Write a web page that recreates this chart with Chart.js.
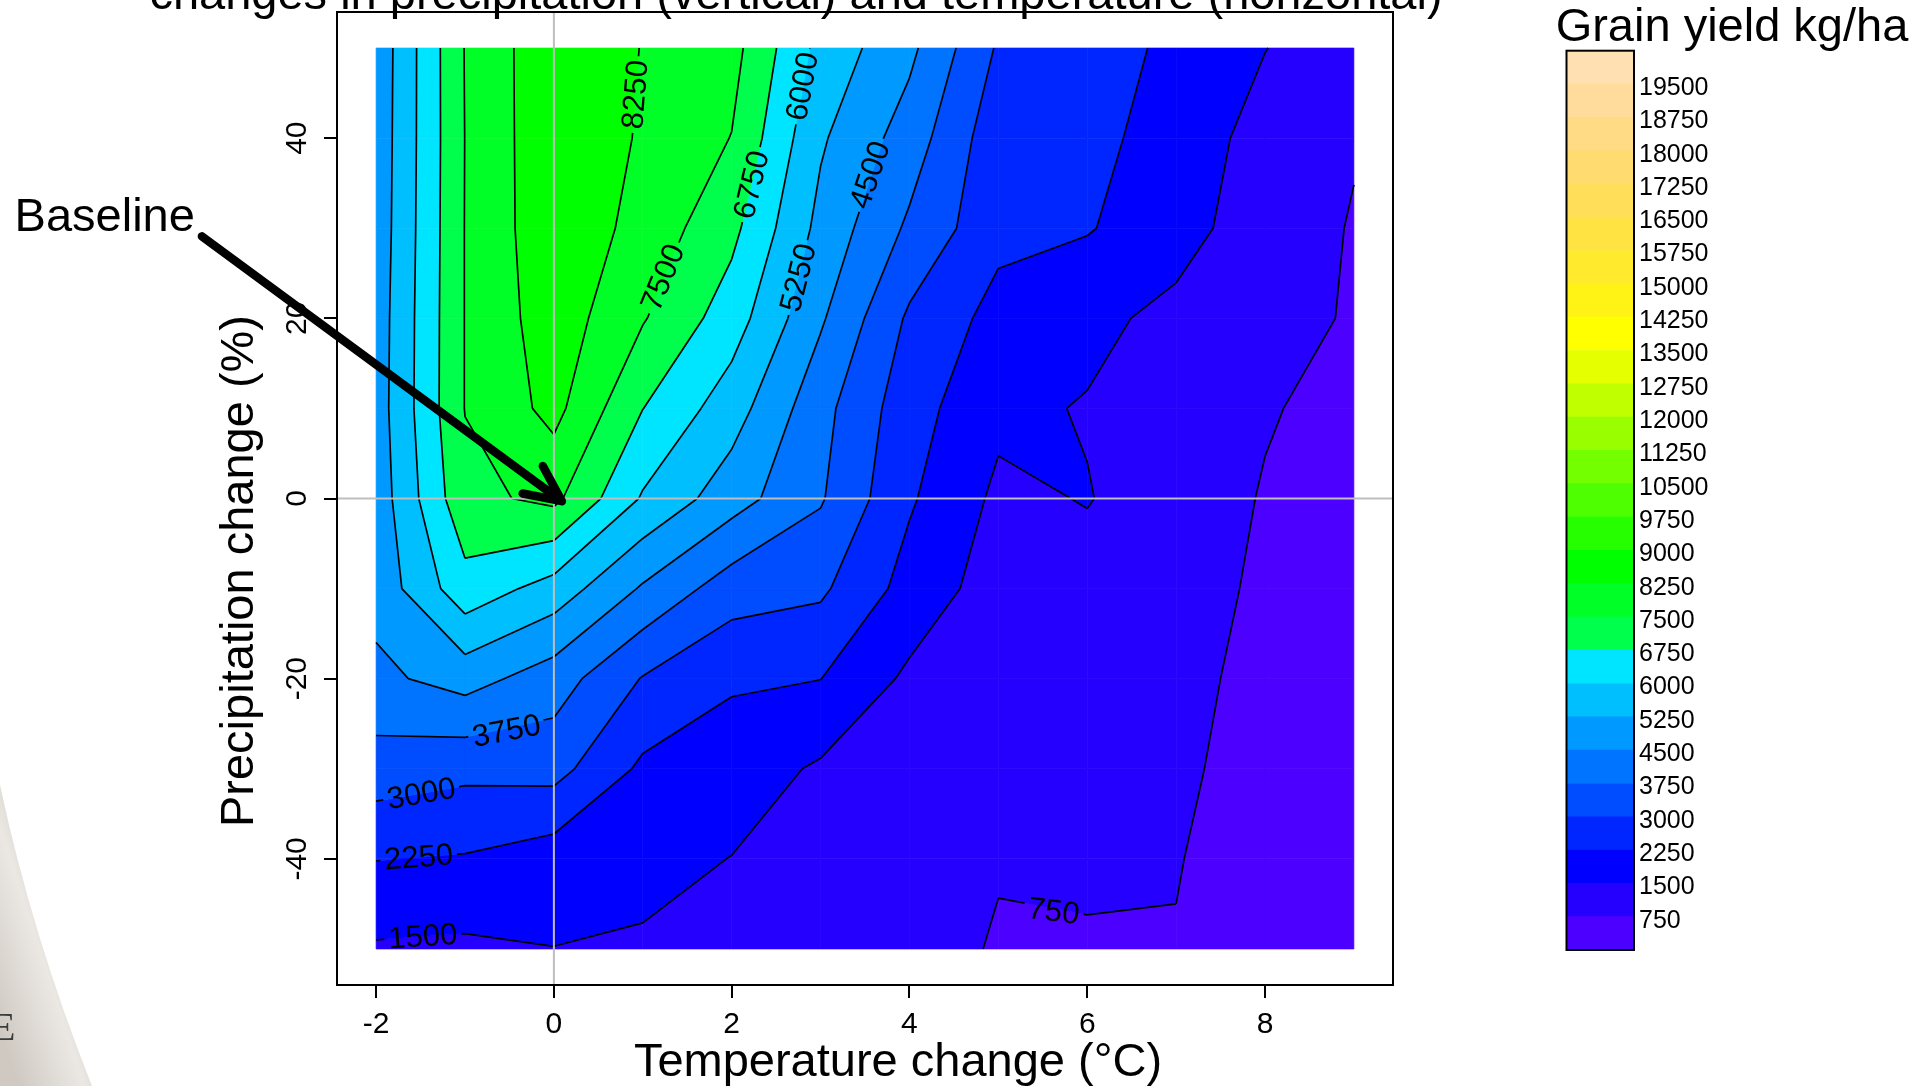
<!DOCTYPE html>
<html>
<head>
<meta charset="utf-8">
<title>Grain yield kg/ha</title>
<script src="https://cdn.jsdelivr.net/npm/chart.js@4.4.1/dist/chart.umd.min.js"></script>
<style>
    html, body { margin: 0; padding: 0; background: #ffffff; }
    body { width: 1931px; height: 1086px; position: relative; overflow: hidden; }
    #main { position: absolute; left: 0; top: 0; }
    #key { position: absolute; left: 1531px; top: 0; }
</style>
</head>
<body>
<canvas id="main" width="1931" height="1086"></canvas>
<canvas id="key" width="400" height="1086"></canvas>
<script>
// temperature change (°C) across, precipitation change (%) down the rows
const tempChange = [-2, -1, 0, 1, 2, 3, 4, 5, 6, 7, 8, 9];
const precipChange = [50, 40, 30, 20, 10, 0, -10, -20, -30, -40, -50];

// grain yield kg/ha, one row per precipitation step
const yieldRows = [
    [4720, 7530, 8840, 8225, 7760, 5760, 4675, 2910, 2600, 2085, 1520, 950],
    [4750, 7510, 8840, 8170, 7480, 5350, 4150, 2520, 2400, 2030, 1160, 790],
    [4780, 7520, 8816, 7996, 6950, 5030, 3614, 2456, 2300, 1820, 1050, 713],
    [4845, 7520, 8690, 7560, 6370, 4600, 2875, 1995, 1700, 1292, 1000, 684],
    [4875, 7520, 8482, 6760, 5600, 4000, 2550, 1667, 1450, 1200, 800, 560],
    [4800, 7300, 7680, 5920, 4828, 3824, 2339, 1350, 1534, 1107, 706, 450],
    [4753, 6470, 5690, 4410, 3350, 3133, 1971, 1145, 1225, 1000, 650, 500],
    [4330, 4800, 4117, 2956, 2341, 2260, 1357, 1100, 1000, 900, 600, 450],
    [3410, 3186, 3270, 2105, 1887, 1400, 1200, 1000, 950, 820, 600, 450],
    [2270, 2192, 1861, 1751, 1484, 1150, 1050, 774, 832, 770, 550, 420],
    [1413, 1358, 1489, 1398, 1100, 1000, 900, 719, 700, 730, 500, 400]
];

// contour / colour key levels
const levels = [0, 750, 1500, 2250, 3000, 3750, 4500, 5250, 6000, 6750, 7500, 8250, 9000, 9750,
    10500, 11250, 12000, 12750, 13500, 14250, 15000, 15750, 16500, 17250, 18000, 18750, 19500, 20250];

const xTicks = [-2, 0, 2, 4, 6, 8];
const yTicks = [-40, -20, 0, 20, 40];
const keyTicks = levels.slice(1, -1);

// where the contour labels sit (data units)
const contourLabels = [
    { level: 8250, x: 0.96, y: 44.8 },
    { level: 7500, x: 1.33, y: 24.1 },
    { level: 6750, x: 2.28, y: 34.7 },
    { level: 6000, x: 2.87, y: 45.6 },
    { level: 5250, x: 2.88, y: 24.2 },
    { level: 4500, x: 3.65, y: 35.6 },
    { level: 3750, x: -0.53, y: -26.0 },
    { level: 3000, x: -1.49, y: -32.9 },
    { level: 2250, x: -1.52, y: -40.0 },
    { level: 1500, x: -1.47, y: -49.3 },
    { level: 750, x: 5.62, y: -46.0 }
];

const FONT = "'Liberation Sans', Arial, Helvetica, sans-serif";
Chart.defaults.font.family = FONT;
Chart.defaults.color = '#000';

// R's topo.colors()
function hsv(h, s, v) {
    const i = Math.floor(h * 6), f = h * 6 - i;
    const p = v * (1 - s), q = v * (1 - f * s), t = v * (1 - (1 - f) * s);
    const rgb = [[v, t, p], [q, v, p], [p, v, t], [p, q, v], [t, p, v], [v, p, q]][i % 6];
    return '#' + rgb.map(c => Math.round(c * 255).toString(16).padStart(2, '0')).join('');
}
function topoColors(n) {
    const j = Math.floor(n / 3), k = Math.floor(n / 3), i = n - j - k;
    const seq = (a, b, m) => Array.from({ length: m }, (_, t) => m === 1 ? a : a + (b - a) * t / (m - 1));
    const sat = seq(1, 0.3, k);
    return [
        ...seq(43 / 60, 31 / 60, i).map(h => hsv(h, 1, 1)),
        ...seq(23 / 60, 11 / 60, j).map(h => hsv(h, 1, 1)),
        ...seq(10 / 60, 6 / 60, k).map((h, t) => hsv(h, sat[t], 1))
    ];
}
const bandColors = topoColors(levels.length - 1);

const dxStep = tempChange[1] - tempChange[0];
const dyStep = precipChange[0] - precipChange[1];

function yieldAt(x, y) {
    const fx = Math.min(Math.max((x - tempChange[0]) / dxStep, 0), tempChange.length - 1.0001);
    const fy = Math.min(Math.max((precipChange[0] - y) / dyStep, 0), precipChange.length - 1.0001);
    const j = Math.floor(fx), i = Math.floor(fy);
    const tx = fx - j, ty = fy - i;
    const top = yieldRows[i][j] * (1 - tx) + yieldRows[i][j + 1] * tx;
    const bot = yieldRows[i + 1][j] * (1 - tx) + yieldRows[i + 1][j + 1] * tx;
    return top * (1 - ty) + bot * ty;
}

function cellCorners(i, j) {
    return [
        { x: tempChange[j], y: precipChange[i], v: yieldRows[i][j] },
        { x: tempChange[j + 1], y: precipChange[i], v: yieldRows[i][j + 1] },
        { x: tempChange[j + 1], y: precipChange[i + 1], v: yieldRows[i + 1][j + 1] },
        { x: tempChange[j], y: precipChange[i + 1], v: yieldRows[i + 1][j] }
    ];
}

function clipPoly(pts, level, keepAbove) {
    const out = [];
    for (let n = 0; n < pts.length; n++) {
        const a = pts[n], b = pts[(n + 1) % pts.length];
        const ina = keepAbove ? a.v >= level : a.v <= level;
        const inb = keepAbove ? b.v >= level : b.v <= level;
        if (ina) out.push(a);
        if (ina !== inb) {
            const t = (level - a.v) / (b.v - a.v);
            out.push({ x: a.x + t * (b.x - a.x), y: a.y + t * (b.y - a.y), v: level });
        }
    }
    return out;
}

function crossing(a, b, level) {
    const t = (level - a.v) / (b.v - a.v);
    return { x: a.x + t * (b.x - a.x), y: a.y + t * (b.y - a.y) };
}

function cellSegments(c, level) {
    const pts = [];
    for (let n = 0; n < 4; n++) {
        const a = c[n], b = c[(n + 1) % 4];
        pts.push((a.v - level) * (b.v - level) < 0 ? crossing(a, b, level) : null);
    }
    const hits = pts.filter(p => p);
    if (hits.length === 2) return [hits];
    if (hits.length === 4) {
        const centre = (c[0].v + c[1].v + c[2].v + c[3].v) / 4;
        if ((c[0].v > level) === (centre > level)) return [[pts[0], pts[1]], [pts[2], pts[3]]];
        return [[pts[3], pts[0]], [pts[1], pts[2]]];
    }
    return [];
}

const LABEL_FONT = '31px ' + FONT;

function placeLabels(chart) {
    const { x: xs, y: ys } = chart.scales;
    const kx = xs.getPixelForValue(1) - xs.getPixelForValue(0);
    const ky = ys.getPixelForValue(1) - ys.getPixelForValue(0);
    const ctx = chart.ctx;
    ctx.font = LABEL_FONT;
    return contourLabels.map(lab => {
        let px = xs.getPixelForValue(lab.x), py = ys.getPixelForValue(lab.y);
        let gx = 0, gy = 0;
        for (let n = 0; n < 8; n++) {
            const dx = xs.getValueForPixel(px), dy = ys.getValueForPixel(py);
            const v = yieldAt(dx, dy);
            gx = (yieldAt(dx + 0.01, dy) - yieldAt(dx - 0.01, dy)) / (0.02 * kx);
            gy = (yieldAt(dx, dy + 0.1) - yieldAt(dx, dy - 0.1)) / (0.2 * ky);
            const g2 = gx * gx + gy * gy;
            if (!g2) break;
            px -= (v - lab.level) * gx / g2;
            py -= (v - lab.level) * gy / g2;
        }
        let angle = Math.atan2(gx, -gy);
        if (angle > Math.PI / 2) angle -= Math.PI;
        if (angle <= -Math.PI / 2) angle += Math.PI;
        const text = String(lab.level);
        const w = ctx.measureText(text).width + 8, h = 28;
        const c = Math.cos(angle), s = Math.sin(angle);
        const box = [[-w / 2, -h / 2], [w / 2, -h / 2], [w / 2, h / 2], [-w / 2, h / 2]]
            .map(([u, v]) => [px + u * c - v * s, py + u * s + v * c]);
        return { text, px, py, angle, box };
    });
}

// slide edge showing at the lower left
const slideEdge = {
    id: 'slideEdge',
    beforeDraw(chart) {
        const ctx = chart.ctx;
        ctx.save();
        ctx.beginPath();
        ctx.moveTo(0, 785);
        ctx.quadraticCurveTo(32, 935, 92, 1086);
        ctx.lineTo(0, 1086);
        ctx.closePath();
        const g = ctx.createLinearGradient(92, 1000, 0, 1030);
        g.addColorStop(0, '#b8afa4');
        g.addColorStop(0.12, '#d9d4ce');
        g.addColorStop(0.35, '#ebe8e4');
        g.addColorStop(1, '#cfc9c2');
        ctx.fillStyle = g;
        ctx.fill();
        ctx.fillStyle = '#3c3c3c';
        ctx.font = '40px "Liberation Serif", serif';
        ctx.fillText('E', -9, 1040);
        ctx.restore();
    }
};

const contourPlugin = {
    id: 'contour',
    beforeDatasetsDraw(chart) {
        const { ctx, chartArea: area, scales: { x: xs, y: ys } } = chart;
        const toPx = p => [xs.getPixelForValue(p.x), ys.getPixelForValue(p.y)];
        ctx.save();
        for (let i = 0; i < precipChange.length - 1; i++) {
            for (let j = 0; j < tempChange.length - 1; j++) {
                const corners = cellCorners(i, j);
                const vs = corners.map(c => c.v);
                const vmin = Math.min(...vs), vmax = Math.max(...vs);
                for (let k = 0; k < levels.length - 1; k++) {
                    if (levels[k + 1] < vmin || levels[k] > vmax) continue;
                    const poly = clipPoly(clipPoly(corners, levels[k], true), levels[k + 1], false);
                    if (poly.length < 3) continue;
                    ctx.beginPath();
                    poly.forEach((p, n) => {
                        const [px, py] = toPx(p);
                        if (n) ctx.lineTo(px, py); else ctx.moveTo(px, py);
                    });
                    ctx.closePath();
                    ctx.fillStyle = bandColors[k];
                    ctx.strokeStyle = bandColors[k];
                    ctx.lineWidth = 0.7;
                    ctx.fill();
                    ctx.stroke();
                }
            }
        }

        // contour lines, leaving gaps for the labels
        const labels = placeLabels(chart);
        ctx.save();
        ctx.beginPath();
        ctx.rect(area.left, area.top, area.width, area.height);
        labels.forEach(l => {
            l.box.forEach(([bx, by], n) => n ? ctx.lineTo(bx, by) : ctx.moveTo(bx, by));
            ctx.closePath();
        });
        ctx.clip('evenodd');
        ctx.beginPath();
        for (let i = 0; i < precipChange.length - 1; i++) {
            for (let j = 0; j < tempChange.length - 1; j++) {
                const corners = cellCorners(i, j);
                for (let k = 1; k < levels.length - 1; k++) {
                    cellSegments(corners, levels[k]).forEach(([a, b]) => {
                        const [ax, ay] = toPx(a), [bx, by] = toPx(b);
                        ctx.moveTo(ax, ay);
                        ctx.lineTo(bx, by);
                    });
                }
            }
        }
        ctx.strokeStyle = '#000';
        ctx.lineWidth = 1.7;
        ctx.lineJoin = 'round';
        ctx.stroke();
        ctx.restore();

        ctx.fillStyle = '#000';
        ctx.font = LABEL_FONT;
        ctx.textAlign = 'center';
        ctx.textBaseline = 'middle';
        labels.forEach(l => {
            ctx.save();
            ctx.translate(l.px, l.py);
            ctx.rotate(l.angle);
            ctx.fillText(l.text, 0, 1);
            ctx.restore();
        });
        ctx.restore();
    },
    afterDraw(chart) {
        const { ctx, chartArea: area, scales: { x: xs, y: ys } } = chart;
        ctx.save();

        // reference lines through the baseline
        ctx.strokeStyle = '#bebebe';
        ctx.lineWidth = 2;
        ctx.beginPath();
        const x0 = xs.getPixelForValue(0), y0 = ys.getPixelForValue(0);
        ctx.moveTo(x0, area.top); ctx.lineTo(x0, area.bottom);
        ctx.moveTo(area.left, y0); ctx.lineTo(area.right, y0);
        ctx.stroke();

        // plot box
        ctx.strokeStyle = '#000';
        ctx.lineWidth = 2;
        ctx.strokeRect(area.left, area.top, area.width, area.height);

        // "Baseline" arrow
        const tail = [xs.getPixelForValue(-3.96), ys.getPixelForValue(29.1)];
        const tip = [xs.getPixelForValue(0.09), ys.getPixelForValue(-0.3)];
        const ang = Math.atan2(tip[1] - tail[1], tip[0] - tail[0]);
        ctx.lineWidth = 8.5;
        ctx.lineCap = 'round';
        ctx.lineJoin = 'round';
        ctx.beginPath();
        ctx.moveTo(tail[0], tail[1]);
        ctx.lineTo(tip[0], tip[1]);
        [0.44, -0.44].forEach(d => {
            ctx.moveTo(tip[0], tip[1]);
            ctx.lineTo(tip[0] - 40 * Math.cos(ang + d), tip[1] - 40 * Math.sin(ang + d));
        });
        ctx.stroke();

        ctx.fillStyle = '#000';
        ctx.font = '47px ' + FONT;
        ctx.textBaseline = 'alphabetic';
        ctx.textAlign = 'right';
        ctx.fillText('Baseline', tail[0] - 7, tail[1] - 5);

        // titles
        ctx.textAlign = 'center';
        ctx.fillText('changes in precipitation (vertical) and temperature (horizontal)', 796, 9);
        ctx.fillText('Temperature change (°C)', 898, 1076);
        ctx.translate(253, 571);
        ctx.rotate(-Math.PI / 2);
        ctx.fillText('Precipitation change (%)', 0, 0);
        ctx.restore();
    }
};

const gridPoints = precipChange.flatMap((p, i) => tempChange.map((t, j) => ({ x: t, y: p, v: yieldRows[i][j] })));

// chart area must stay where the box is, whatever the tick labels ask for
const noEdgePadding = scale => {
    scale.paddingTop = 0;
    scale.paddingBottom = 0;
    scale.paddingLeft = 0;
    scale.paddingRight = 0;
};

const mainChart = new Chart(document.getElementById('main'), {
    type: 'scatter',
    data: {
        datasets: [{ label: 'Grain yield', data: gridPoints, pointRadius: 0, pointHoverRadius: 0 }]
    },
    options: {
        responsive: false,
        animation: false,
        devicePixelRatio: 1,
        events: [],
        layout: { padding: { left: 0, top: 12, right: 538, bottom: 0 } },
        plugins: { legend: { display: false }, tooltip: { enabled: false } },
        scales: {
            x: {
                type: 'linear',
                min: -2.44,
                max: 9.44,
                afterBuildTicks: scale => { scale.ticks = xTicks.map(value => ({ value })); },
                afterFit: scale => { scale.height = 101; noEdgePadding(scale); },
                grid: { drawOnChartArea: false, drawTicks: true, tickLength: 13, color: '#000', lineWidth: 2 },
                border: { display: false },
                ticks: { font: { size: 30 }, padding: 9, autoSkip: false, maxRotation: 0 }
            },
            y: {
                type: 'linear',
                min: -54,
                max: 54,
                afterBuildTicks: scale => { scale.ticks = yTicks.map(value => ({ value })); },
                afterFit: scale => { scale.width = 337; noEdgePadding(scale); },
                grid: { drawOnChartArea: false, drawTicks: true, tickLength: 13, color: '#000', lineWidth: 2 },
                border: { display: false },
                ticks: { font: { size: 30 }, padding: 5, autoSkip: false, minRotation: 90, maxRotation: 90, crossAlign: 'center' }
            }
        }
    },
    plugins: [slideEdge, contourPlugin]
});

const keyFrame = {
    id: 'keyFrame',
    afterDraw(chart) {
        const { ctx, chartArea: area } = chart;
        ctx.save();
        ctx.strokeStyle = '#000';
        ctx.lineWidth = 2;
        ctx.strokeRect(area.left, area.top, area.width, area.height);
        ctx.fillStyle = '#000';
        ctx.font = '47px ' + FONT;
        ctx.textAlign = 'center';
        ctx.fillText('Grain yield kg/ha', 201, 41);
        ctx.restore();
    }
};

const keyChart = new Chart(document.getElementById('key'), {
    type: 'bar',
    data: {
        labels: ['Grain yield kg/ha'],
        datasets: bandColors.map((color, k) => ({
            data: [[levels[k], levels[k + 1]]],
            backgroundColor: color,
            borderWidth: 0,
            barPercentage: 1,
            categoryPercentage: 1
        }))
    },
    options: {
        responsive: false,
        animation: false,
        devicePixelRatio: 1,
        events: [],
        layout: { padding: { left: 35.5, top: 50.7, right: 0, bottom: 136 } },
        plugins: { legend: { display: false }, tooltip: { enabled: false } },
        scales: {
            x: { display: false, stacked: true },
            y: {
                position: 'right',
                min: 0,
                max: 20250,
                afterBuildTicks: scale => { scale.ticks = keyTicks.map(value => ({ value })); },
                afterFit: scale => { scale.width = 297; noEdgePadding(scale); },
                grid: { display: false, drawTicks: false },
                border: { display: false },
                ticks: { font: { size: 25 }, padding: 5, labelOffset: 4, autoSkip: false, callback: v => String(v) }
            }
        }
    },
    plugins: [keyFrame]
});
</script>
</body>
</html>
